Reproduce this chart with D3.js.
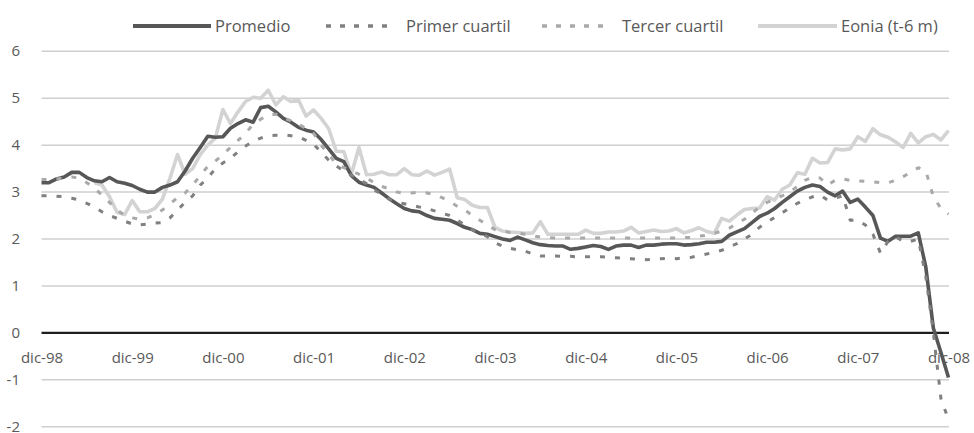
<!DOCTYPE html>
<html>
<head>
<meta charset="utf-8">
<script src="https://cdn.jsdelivr.net/npm/d3@7"></script>
<style>
  html, body { margin: 0; padding: 0; background: #fff; }
  svg { display: block; }
  text { font-family: "Open Sans", "Noto Sans", sans-serif; fill: #595959; }
</style>
</head>
<body>
<svg id="chart" width="974" height="433"></svg>
<script>
// ---- Data (monthly, dic-98 .. dic-08) ----
const startDate = new Date(1998, 11, 1);
const endDate = new Date(2008, 11, 1);
const tickLabels = ["dic-98","dic-99","dic-00","dic-01","dic-02","dic-03","dic-04","dic-05","dic-06","dic-07","dic-08"];
const yTicks = [-2, -1, 0, 1, 2, 3, 4, 5, 6];

const promedio = [
3.2,3.2,3.28,3.32,3.42,3.42,3.31,3.24,3.22,3.31,3.22,3.19,
3.14,3.06,3.0,3.0,3.1,3.15,3.22,3.45,3.72,3.95,4.19,4.17,
4.18,4.36,4.46,4.54,4.49,4.8,4.83,4.71,4.57,4.49,4.38,4.32,
4.28,4.12,3.92,3.72,3.65,3.35,3.21,3.15,3.1,2.98,2.86,2.75,
2.65,2.6,2.58,2.5,2.44,2.42,2.4,2.33,2.25,2.2,2.12,2.1,
2.05,2.0,1.97,2.04,1.98,1.92,1.88,1.86,1.85,1.85,1.78,1.8,
1.83,1.86,1.84,1.78,1.85,1.87,1.87,1.82,1.87,1.87,1.89,1.9,
1.9,1.87,1.88,1.9,1.93,1.93,1.95,2.08,2.15,2.22,2.35,2.48,
2.55,2.65,2.78,2.9,3.02,3.1,3.15,3.12,3.0,2.92,3.02,2.78,
2.85,2.68,2.5,2.02,1.95,2.06,2.06,2.06,2.13,1.4,0.1,-0.42,
-0.95];

const primerCuartil = [
2.92,2.92,2.91,2.9,2.87,2.83,2.76,2.68,2.58,2.5,2.44,2.38,
2.32,2.3,2.32,2.34,2.35,2.45,2.62,2.78,2.92,3.15,3.3,3.5,
3.62,3.72,3.86,3.98,4.08,4.15,4.2,4.21,4.22,4.2,4.18,4.1,
4.02,3.85,3.68,3.56,3.45,3.36,3.27,3.18,3.05,2.95,2.85,2.78,
2.75,2.72,2.68,2.65,2.6,2.55,2.5,2.4,2.3,2.2,2.12,2.05,
1.92,1.85,1.8,1.77,1.74,1.68,1.64,1.64,1.64,1.63,1.63,1.62,
1.62,1.62,1.62,1.61,1.6,1.59,1.58,1.57,1.56,1.57,1.58,1.59,
1.58,1.6,1.61,1.65,1.68,1.72,1.76,1.83,1.9,2.0,2.1,2.25,
2.36,2.46,2.56,2.66,2.76,2.83,2.9,2.94,2.83,2.87,2.92,2.4,
2.4,2.3,2.1,1.7,1.95,2.05,1.95,1.95,2.0,1.2,0.0,-1.4,
-1.85];

const tercerCuartil = [
3.27,3.27,3.28,3.3,3.32,3.3,3.2,3.08,2.94,2.78,2.62,2.5,
2.45,2.42,2.45,2.52,2.62,2.75,2.88,2.98,3.15,3.35,3.55,3.66,
3.8,3.95,4.1,4.25,4.45,4.55,4.65,4.66,4.58,4.52,4.45,4.35,
4.25,4.0,3.8,3.6,3.52,3.45,3.38,3.3,3.2,3.12,3.07,3.0,
2.97,2.98,3.0,2.98,2.95,2.88,2.8,2.7,2.62,2.5,2.4,2.3,
2.2,2.17,2.14,2.13,2.1,2.07,2.04,2.03,2.02,2.02,2.02,2.02,
2.02,2.02,2.02,2.02,2.02,2.02,2.02,2.02,2.02,2.02,2.02,2.02,
2.02,2.03,2.03,2.06,2.08,2.12,2.17,2.23,2.33,2.42,2.55,2.68,
2.78,2.85,2.92,3.0,3.12,3.25,3.32,3.3,3.15,3.25,3.28,3.25,
3.24,3.23,3.22,3.2,3.2,3.25,3.33,3.42,3.52,3.45,2.9,2.65,
2.53];

const eonia = [
null,null,null,null,null,null,null,3.2,3.15,2.9,2.57,2.52,
2.82,2.58,2.58,2.65,2.85,3.3,3.8,3.38,3.5,3.8,4.0,4.15,
4.76,4.46,4.71,4.93,5.02,5.0,5.17,4.86,5.03,4.93,4.96,4.62,
4.75,4.57,4.35,3.87,3.86,3.38,3.95,3.37,3.38,3.43,3.37,3.37,
3.5,3.37,3.36,3.45,3.36,3.42,3.49,2.88,2.84,2.72,2.67,2.67,
2.25,2.17,2.15,2.14,2.12,2.13,2.37,2.1,2.1,2.1,2.1,2.1,
2.19,2.12,2.12,2.15,2.15,2.17,2.25,2.13,2.16,2.19,2.16,2.17,
2.22,2.13,2.18,2.24,2.16,2.12,2.44,2.38,2.51,2.63,2.65,2.66,
2.9,2.83,3.06,3.15,3.41,3.38,3.72,3.62,3.63,3.92,3.9,3.92,
4.18,4.08,4.35,4.22,4.17,4.07,3.95,4.25,4.05,4.18,4.23,4.11,
4.31];

const seriesNames = ["Promedio", "Primer cuartil", "Tercer cuartil", "Eonia (t-6 m)"];

// ---- Chart ----
const months = d3.timeMonth.range(startDate, d3.timeMonth.offset(endDate, 1));
const W = 974, H = 433;
const svg = d3.select("#chart");
svg.append("rect").attr("width", W).attr("height", H).attr("fill", "#fff");

const plotLeft = 41.5, plotRight = 948.5;
const x = d3.scalePoint().domain(d3.range(months.length)).range([plotLeft, plotRight]);
const y = d3.scaleLinear().domain([-2, 6]).range([426.7, 51.3]);

// gridlines
svg.append("g").selectAll("line").data(yTicks.filter(d => d !== 0)).join("line")
  .attr("x1", plotLeft).attr("x2", plotRight + 0.5)
  .attr("y1", d => y(d)).attr("y2", d => y(d))
  .attr("stroke", "#cfcfcf").attr("stroke-width", 1.5);

// y axis labels (hyphen minus as in the original)
const yAxis = d3.axisLeft(y).tickValues(yTicks).tickSize(0).tickPadding(0)
  .tickFormat(d => String(d));
const gy = svg.append("g").attr("transform", "translate(20,0)").call(yAxis);
gy.select(".domain").remove();
gy.selectAll("text").attr("font-size", 15).attr("fill", "#595959").attr("dy", "0.3em")
  .attr("font-family", "'Open Sans', sans-serif");

// x axis labels
const tickIdx = tickLabels.map((_, i) => i * 12);
const xAxis = d3.axisBottom(x).tickValues(tickIdx).tickSize(0).tickPadding(0)
  .tickFormat((d, i) => tickLabels[i]);
const gx = svg.append("g").attr("transform", "translate(0,352)").call(xAxis);
gx.select(".domain").remove();
gx.selectAll("text").attr("font-size", 15).attr("fill", "#595959")
  .attr("font-family", "'Open Sans', sans-serif");

// zero line
svg.append("line").attr("x1", plotLeft).attr("x2", plotRight + 0.5)
  .attr("y1", y(0)).attr("y2", y(0)).attr("stroke", "#1e1e1e").attr("stroke-width", 2.2);

const line = d3.line().defined(d => d != null).x((d, i) => x(i)).y(d => y(d));

const styles = {
  eonia: { color: "#d3d3d3", width: 3.6, dash: null },
  promedio: { color: "#575757", width: 3.6, dash: null },
  primer: { color: "#808080", width: 3, dash: "5,10" },
  tercer: { color: "#a9a9a9", width: 3, dash: "5,10" }
};

function drawSeries(data, st) {
  svg.append("path").datum(data).attr("d", line)
    .attr("fill", "none").attr("stroke", st.color).attr("stroke-width", st.width)
    .attr("stroke-linejoin", "round")
    .attr("stroke-dasharray", st.dash);
}
drawSeries(eonia, styles.eonia);
drawSeries(promedio, styles.promedio);
drawSeries(primerCuartil, styles.primer);
drawSeries(tercerCuartil, styles.tercer);

// legend
const legendY = 26;
const legendItems = [
  { name: seriesNames[0], st: styles.promedio, x0: 133, x1: 211, tx: 215 },
  { name: seriesNames[1], st: styles.primer, x0: 326, x1: 396, tx: 406 },
  { name: seriesNames[2], st: styles.tercer, x0: 542, x1: 612, tx: 622 },
  { name: seriesNames[3], st: styles.eonia, x0: 758, x1: 837, tx: 841 }
];
const lg = svg.append("g");
legendItems.forEach(it => {
  lg.append("line").attr("x1", it.x0).attr("x2", it.x1).attr("y1", legendY).attr("y2", legendY)
    .attr("stroke", it.st.color).attr("stroke-width", it.st.dash ? 3.5 : 4)
    .attr("stroke-dasharray", it.st.dash ? "5,9" : null);
  lg.append("text").attr("x", it.tx).attr("y", legendY).attr("dy", "0.35em")
    .attr("font-size", 16.5).text(it.name);
});
</script>
</body>
</html>
